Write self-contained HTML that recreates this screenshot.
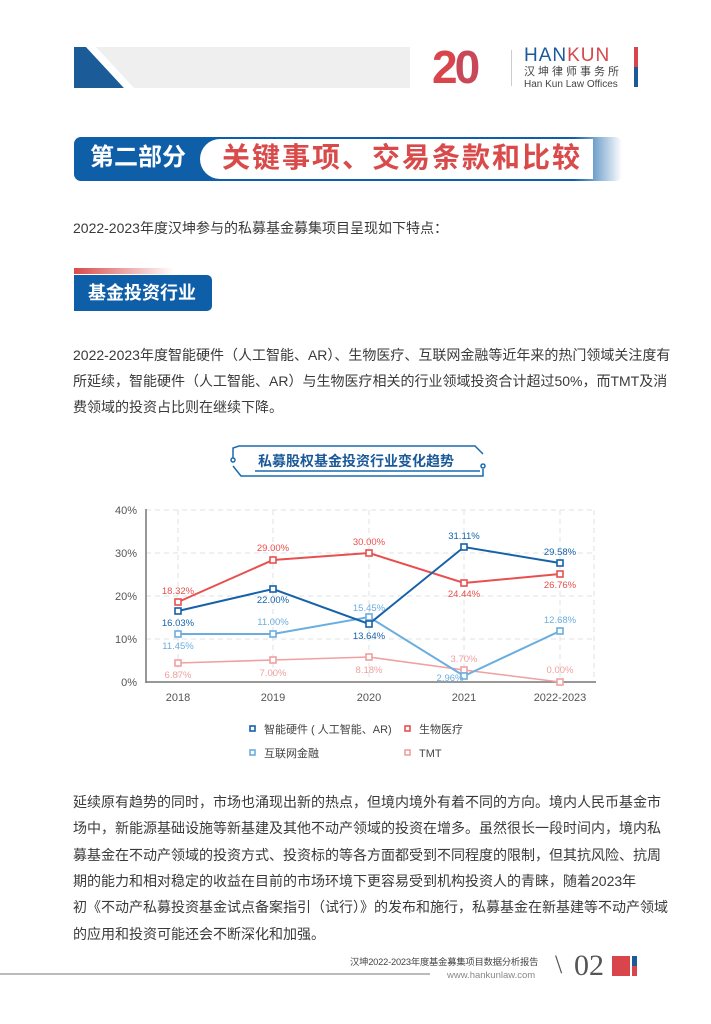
<!DOCTYPE html>
<html><head><meta charset="utf-8">
<style>
*{margin:0;padding:0;box-sizing:border-box}
body{width:711px;height:1024px;background:#fff;position:relative;overflow:hidden;font-family:"Liberation Sans","Noto Sans CJK SC",sans-serif;color:#444}
.a{position:absolute}
.ln{position:absolute;left:73px;width:560px;font-size:14px;color:#3a3a3a;text-align:justify;text-align-last:justify;white-space:nowrap;line-height:18px}
.ln.l{text-align-last:left}
</style></head><body>
<!-- header -->
<div class="a" style="left:74px;top:47px;width:336px;height:41px;background:#efefef"></div>
<svg class="a" style="left:74px;top:47px" width="70" height="41"><polygon points="0,0 12,0 50,41 0,41" fill="#1b5b98"/><polygon points="12,0 22,0 60,41 50,41" fill="#fff"/></svg>
<div class="a" style="left:432px;top:43px;font-size:46px;font-weight:bold;color:#d8464c;letter-spacing:-3px;line-height:48px;font-family:'Liberation Sans',sans-serif">2<span style="color:#c8485a">0</span></div>
<div class="a" style="left:511px;top:50px;width:1px;height:36px;background:#ccc"></div>
<div class="a" style="left:524px;top:45px;font-size:19px;color:#1a5a9a;letter-spacing:1px;line-height:22px">HAN<span style="color:#d8464c">KUN</span></div>
<div class="a" style="left:524px;top:66px;font-size:11px;color:#444;letter-spacing:3px;line-height:13px">汉坤律师事务所</div>
<div class="a" style="left:524px;top:79px;font-size:10px;color:#444;line-height:12px">Han Kun Law Offices</div>
<div class="a" style="left:634px;top:47px;width:4px;height:20px;background:#d8464c"></div>
<div class="a" style="left:634px;top:67px;width:4px;height:20px;background:#1a5a9a"></div>
<!-- section banner -->
<div class="a" style="left:74px;top:137px;width:548px;height:44px;background:linear-gradient(90deg,#0f5ea8 0,#0f5ea8 500px,#fff 100%);border-radius:7px"></div>
<div class="a" style="left:200px;top:139px;width:393px;height:40px;background:#fff;border-radius:22px 0 0 22px"></div>
<div class="a" style="left:90px;top:143px;font-size:24px;font-weight:bold;color:#fff;line-height:30px">第二部分</div>
<div class="a" style="left:222px;top:141px;font-size:28px;font-weight:bold;color:#d94a4a;line-height:34px;letter-spacing:2px">关键事项、交易条款和比较</div>
<div class="a" style="left:73px;top:218px;font-size:14px;color:#3a3a3a;line-height:20px">2022-2023年度汉坤参与的私募基金募集项目呈现如下特点：</div>
<!-- sub header -->
<div class="a" style="left:74px;top:268px;width:100px;height:6px;background:linear-gradient(90deg,#d84a4a,#fff)"></div>
<div class="a" style="left:74px;top:275px;width:138px;height:36px;background:#0f5ea8;border-radius:0 5px 5px 0"></div>
<div class="a" style="left:88px;top:280px;font-size:18px;font-weight:bold;color:#fff;line-height:26px">基金投资行业</div>
<div class="ln" style="top:346px">2022-2023年度智能硬件（人工智能、AR）、生物医疗、互联网金融等近年来的热门领域关注度有</div>
<div class="ln" style="top:372px">所延续，智能硬件（人工智能、AR）与生物医疗相关的行业领域投资合计超过50%，而TMT及消</div>
<div class="ln l" style="top:398px">费领域的投资占比则在继续下降。</div>
<!-- chart title -->
<svg class="a" style="left:225px;top:444px" width="265" height="40">
<g fill="none" stroke="#1a6aae" stroke-width="1.5">
<polyline points="8,14 8,4 14,2 250,2 258,10"/>
<circle cx="8" cy="16" r="2"/>
<polyline points="8,22 16,32 258,32 258,25"/>
<circle cx="258" cy="22" r="2"/>
<line x1="30" y1="27" x2="255" y2="27"/>
</g></svg>
<div class="a" style="left:258px;top:452px;font-size:14px;font-weight:bold;color:#1a5a9a;line-height:18px">私募股权基金投资行业变化趋势</div>
<!-- chart -->
<svg class="a" style="left:0;top:0" width="711" height="1024" font-family="Liberation Sans, sans-serif">
<g stroke="#e2e2e2" stroke-dasharray="5,4" stroke-width="1">
<line x1="146" y1="510" x2="596" y2="510"/><line x1="146" y1="553" x2="596" y2="553"/><line x1="146" y1="596" x2="596" y2="596"/><line x1="146" y1="639" x2="596" y2="639"/>
<line x1="178" y1="510" x2="178" y2="682"/><line x1="273" y1="510" x2="273" y2="682"/><line x1="369" y1="510" x2="369" y2="682"/><line x1="464" y1="510" x2="464" y2="682"/><line x1="560" y1="510" x2="560" y2="682"/><line x1="594" y1="510" x2="594" y2="682"/>
</g>
<line x1="146" y1="509" x2="146" y2="683" stroke="#777" stroke-width="1.5"/>
<line x1="146" y1="682" x2="596" y2="682" stroke="#777" stroke-width="1.5"/>
<g font-size="11" fill="#555" text-anchor="end">
<text x="137" y="514">40%</text><text x="137" y="557">30%</text><text x="137" y="600">20%</text><text x="137" y="643">10%</text><text x="137" y="686">0%</text>
</g>
<g font-size="11" fill="#555" text-anchor="middle">
<text x="178" y="701">2018</text><text x="273" y="701">2019</text><text x="369" y="701">2020</text><text x="464" y="701">2021</text><text x="560" y="701">2022-2023</text>
</g>
<g fill="#fff" stroke-width="1.6">
<polyline fill="none" stroke="#f0a0a0" points="178,663 273,660 369,657 464,670 560,682"/>
<polyline fill="none" stroke="#6aaee0" stroke-width="2" points="178,634 273,634 369,617 464,676 560,631"/>
<polyline fill="none" stroke="#e8504e" stroke-width="2" points="178,602 273,560 369,553 464,583 560,574"/>
<polyline fill="none" stroke="#1662aa" stroke-width="2" points="178,611 273,589 369,624 464,547 560,563"/>
<g stroke="#f0a0a0"><rect x="175" y="660" width="6" height="6"/><rect x="270" y="657" width="6" height="6"/><rect x="366" y="654" width="6" height="6"/><rect x="461" y="667" width="6" height="6"/><rect x="557" y="679" width="6" height="6"/></g>
<g stroke="#6aaee0"><rect x="175" y="631" width="6" height="6"/><rect x="270" y="631" width="6" height="6"/><rect x="366" y="614" width="6" height="6"/><rect x="461" y="673" width="6" height="6"/><rect x="557" y="628" width="6" height="6"/></g>
<g stroke="#e8504e"><rect x="175" y="599" width="6" height="6"/><rect x="270" y="557" width="6" height="6"/><rect x="366" y="550" width="6" height="6"/><rect x="461" y="580" width="6" height="6"/><rect x="557" y="571" width="6" height="6"/></g>
<g stroke="#1662aa"><rect x="175" y="608" width="6" height="6"/><rect x="270" y="586" width="6" height="6"/><rect x="366" y="621" width="6" height="6"/><rect x="461" y="544" width="6" height="6"/><rect x="557" y="560" width="6" height="6"/></g>
</g>
<g font-size="9.5" text-anchor="middle">
<g fill="#e8504e"><text x="178" y="594">18.32%</text><text x="273" y="551">29.00%</text><text x="369" y="545">30.00%</text><text x="464" y="597">24.44%</text><text x="560" y="588">26.76%</text></g>
<g fill="#1662aa"><text x="178" y="626">16.03%</text><text x="273" y="603">22.00%</text><text x="369" y="639">13.64%</text><text x="464" y="539">31.11%</text><text x="560" y="555">29.58%</text></g>
<g fill="#6aaee0"><text x="178" y="649">11.45%</text><text x="273" y="625">11.00%</text><text x="369" y="611">15.45%</text><text x="450" y="681">2.96%</text><text x="560" y="623">12.68%</text></g>
<g fill="#f0a0a0"><text x="178" y="678">6.87%</text><text x="273" y="676">7.00%</text><text x="369" y="673">8.18%</text><text x="464" y="662">3.70%</text><text x="560" y="673">0.00%</text></g>
</g>
<g stroke-width="1.6" fill="#fff">
<rect x="250" y="726" width="5" height="5" stroke="#1662aa"/>
<rect x="405" y="726" width="5" height="5" stroke="#e8504e"/>
<rect x="250" y="750" width="5" height="5" stroke="#6aaee0"/>
<rect x="405" y="750" width="5" height="5" stroke="#f0a0a0"/>
</g>
<g font-size="11" fill="#444" font-family="Liberation Sans, Noto Sans CJK SC, sans-serif">
<text x="264" y="733">智能硬件 ( 人工智能、AR)</text><text x="419" y="733">生物医疗</text>
<text x="264" y="757">互联网金融</text><text x="419" y="757">TMT</text>
</g>
</svg>
<div class="ln" style="top:793px">延续原有趋势的同时，市场也涌现出新的热点，但境内境外有着不同的方向。境内人民币基金市</div>
<div class="ln" style="top:819px">场中，新能源基础设施等新基建及其他不动产领域的投资在增多。虽然很长一段时间内，境内私</div>
<div class="ln" style="top:846px">募基金在不动产领域的投资方式、投资标的等各方面都受到不同程度的限制，但其抗风险、抗周</div>
<div class="ln" style="top:872px">期的能力和相对稳定的收益在目前的市场环境下更容易受到机构投资人的青睐，随着2023年</div>
<div class="ln" style="top:898px">初《不动产私募投资基金试点备案指引（试行）》的发布和施行，私募基金在新基建等不动产领域</div>
<div class="ln l" style="top:925px">的应用和投资可能还会不断深化和加强。</div>
<!-- footer -->
<div class="a" style="left:0;top:973px;width:430px;height:2px;background:#bbb"></div>
<div class="a" style="left:350px;top:956px;font-size:9.3px;color:#444;line-height:12px;letter-spacing:-0.2px">汉坤2022-2023年度基金募集项目数据分析报告</div>
<div class="a" style="left:447px;top:970px;font-size:9.5px;color:#888;line-height:12px">www.hankunlaw.com</div>
<div class="a" style="left:555px;top:950px;font-size:26px;color:#555;line-height:30px;font-family:'Liberation Serif',serif">\</div>
<div class="a" style="left:574px;top:950px;font-size:30px;color:#555;line-height:32px;font-family:'Liberation Serif',serif">02</div>
<div class="a" style="left:612px;top:956px;width:18px;height:20px;background:#d8464c"></div>
<div class="a" style="left:632px;top:956px;width:5px;height:10px;background:#1a5a9a"></div>
<div class="a" style="left:632px;top:966px;width:5px;height:10px;background:#d8464c"></div>
</body></html>
